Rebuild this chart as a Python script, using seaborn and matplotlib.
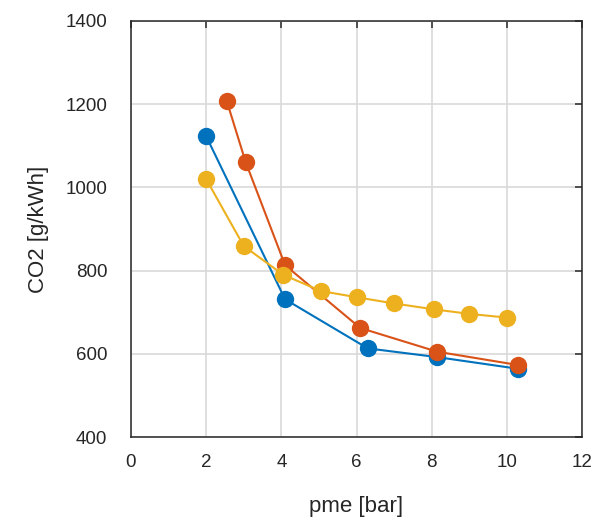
import matplotlib
matplotlib.use("Agg")
import matplotlib.pyplot as plt
import seaborn as sns
import pandas as pd

# Measured CO2 emissions versus mean effective pressure for three configurations
pme_a = [2.0, 4.1, 6.3, 8.15, 10.3]
co2_a = [1123, 731, 613, 592, 564]

pme_b = [2.55, 3.05, 4.1, 6.1, 8.15, 10.3]
co2_b = [1207, 1061, 813, 662, 605, 573]

pme_c = [2.0, 3.0, 4.05, 5.05, 6.0, 7.0, 8.05, 9.0, 10.0]
co2_c = [1020, 859, 790, 751, 736, 721, 707, 696, 687]

colors = ["#0072BD", "#D95319", "#EDB120"]

x_ticks = [0, 2, 4, 6, 8, 10, 12]
y_ticks = [400, 600, 800, 1000, 1200, 1400]

sns.set_style("white")
plt.rcParams["font.family"] = ["Liberation Sans", "DejaVu Sans"]

fig = plt.figure(figsize=(6.02, 5.18), dpi=100)
ax = fig.add_axes([131 / 602, 81 / 518, 451 / 602, 416 / 518])

for xs, ys, c in [(pme_a, co2_a, colors[0]), (pme_b, co2_b, colors[1]), (pme_c, co2_c, colors[2])]:
    df = pd.DataFrame({"pme": xs, "co2": ys})
    sns.lineplot(data=df, x="pme", y="co2", ax=ax, color=c, sort=False,
                 estimator=None, linewidth=1.5, marker="o", markersize=12.5,
                 markeredgewidth=0, zorder=3)

ax.set_xlim(0, 12)
ax.set_ylim(400, 1400)
ax.set_xticks(x_ticks)
ax.set_yticks(y_ticks)
ax.grid(True, color="#d9d9d9", linewidth=1.2)
ax.set_axisbelow(True)

for s in ax.spines.values():
    s.set_visible(True)
    s.set_color("#262626")
    s.set_linewidth(1.1)

ax.tick_params(axis="both", direction="in", length=5, width=1.1, color="#262626",
               labelsize=13.5, labelcolor="#262626", top=True, right=True)
ax.tick_params(axis="x", pad=12)
ax.tick_params(axis="y", pad=17)

ax.set_xlabel("pme [bar]", fontsize=16, color="#262626", labelpad=18)
ax.set_ylabel("CO2 [g/kWh]", fontsize=16, color="#262626", labelpad=12)

fig.savefig("out.png", dpi=100)
